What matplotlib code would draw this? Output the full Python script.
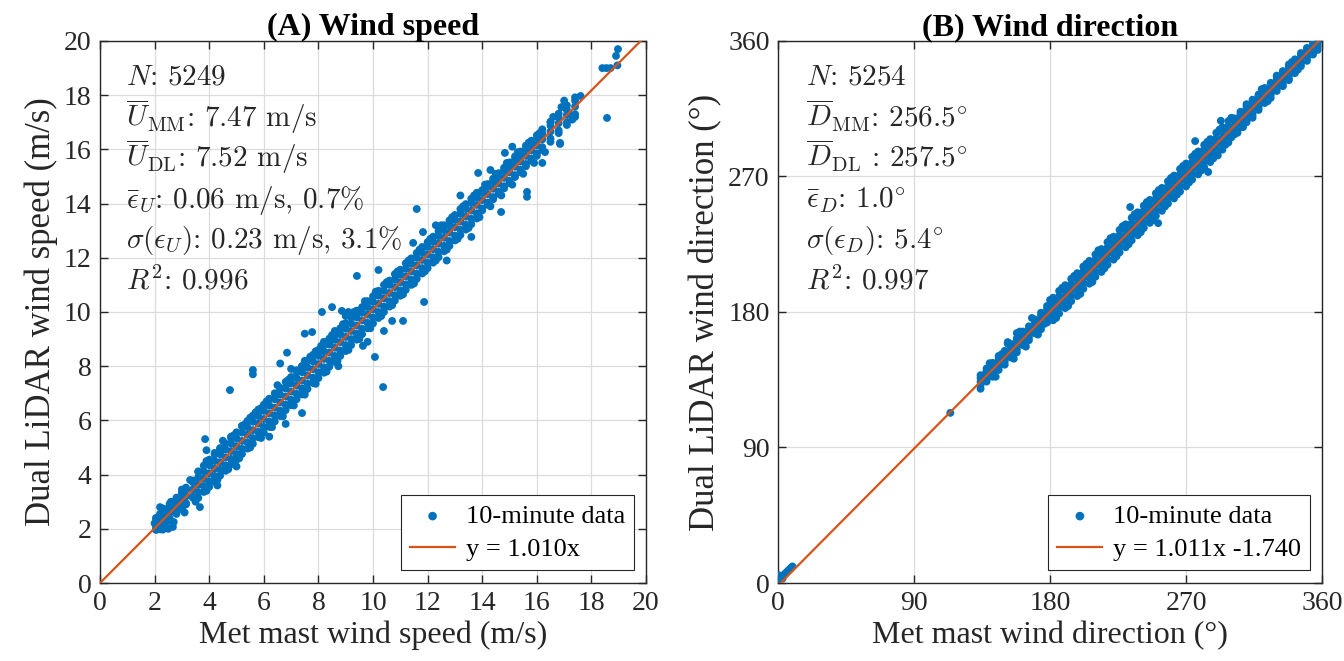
import matplotlib
matplotlib.use("Agg")
import matplotlib.pyplot as plt

plt.rcParams['font.family'] = ['Liberation Serif', 'DejaVu Serif']
plt.rcParams['mathtext.fontset'] = 'cm'

BLUE = '#0072BD'
ORANGE = '#D95319'
DARK = '#262626'

# ---------------- Panel A: wind speed (m/s) ----------------
A_x = [2.05, 2.2, 2.4, 2.55, 2.8, 3.0, 3.15, 3.4, 3.6, 3.8, 4.0, 4.2, 4.4, 4.6, 4.8,
       5.0, 5.2, 5.4, 5.6, 5.8, 6.0, 6.2, 6.4, 6.6, 6.8, 7.0, 7.2, 7.4, 7.6, 7.8,
       8.0, 8.2, 8.4, 8.6, 8.8, 9.0, 9.2, 9.4, 9.6, 9.8, 10.0, 10.2, 10.4, 10.6, 10.8,
       11.0, 11.2, 11.4, 11.6, 11.8, 12.0, 12.2, 12.4, 12.6, 12.8, 13.0, 13.2, 13.4, 13.6, 13.8,
       14.0, 14.2, 14.4, 14.6, 14.8, 15.0, 15.2, 15.4, 15.6, 15.8, 16.0, 16.2, 16.5, 16.8, 17.1, 17.4]
A_mid = [2.10, 2.25, 2.40, 2.60, 2.85, 3.02, 3.20, 3.45, 3.62, 3.85, 4.05, 4.22, 4.46, 4.63, 4.87,
         5.05, 5.24, 5.47, 5.64, 5.88, 6.05, 6.26, 6.47, 6.66, 6.88, 7.06, 7.28, 7.47, 7.66, 7.89,
         8.08, 8.27, 8.50, 8.68, 8.89, 9.08, 9.30, 9.50, 9.69, 9.90, 10.10, 10.30, 10.50, 10.70, 10.92,
         11.10, 11.32, 11.50, 11.72, 11.92, 12.12, 12.32, 12.52, 12.74, 12.93, 13.13, 13.34, 13.52, 13.74, 13.95,
         14.13, 14.35, 14.55, 14.74, 14.95, 15.15, 15.36, 15.55, 15.76, 15.96, 16.15, 16.37, 16.66, 16.97, 17.27, 17.58]
A_up = [2.30, 2.42, 2.58, 2.80, 3.05, 3.28, 3.45, 3.72, 3.90, 4.12, 4.35, 4.50, 4.75, 4.92, 5.15,
        5.34, 5.55, 5.75, 5.95, 6.16, 6.35, 6.55, 6.78, 6.95, 7.18, 7.36, 7.56, 7.78, 7.95, 8.18,
        8.38, 8.55, 8.80, 8.97, 9.18, 9.38, 9.58, 9.80, 9.98, 10.18, 10.38, 10.60, 10.78, 11.00, 11.20,
        11.38, 11.60, 11.78, 12.00, 12.20, 12.40, 12.60, 12.80, 13.02, 13.20, 13.40, 13.62, 13.80, 14.02, 14.22,
        14.40, 14.62, 14.82, 15.00, 15.22, 15.40, 15.62, 15.80, 16.02, 16.20, 16.38, 16.58, 16.88, 17.18, 17.45, 17.80]
A_dn = [1.98, 2.06, 2.20, 2.40, 2.62, 2.76, 2.95, 3.18, 3.35, 3.58, 3.76, 3.95, 4.18, 4.34, 4.58,
        4.76, 4.95, 5.18, 5.35, 5.58, 5.76, 5.96, 6.18, 6.36, 6.58, 6.76, 6.98, 7.18, 7.36, 7.58,
        7.78, 7.96, 8.20, 8.38, 8.58, 8.78, 9.00, 9.20, 9.38, 9.60, 9.80, 10.00, 10.20, 10.40, 10.62,
        10.80, 11.02, 11.20, 11.42, 11.62, 11.82, 12.02, 12.22, 12.44, 12.62, 12.82, 13.04, 13.22, 13.44, 13.64,
        13.82, 14.04, 14.24, 14.44, 14.64, 14.84, 15.05, 15.25, 15.46, 15.66, 15.85, 16.08, 16.40, 16.70, 17.00, 17.30]
A_up2 = [2.40, 2.55, 2.72, 2.92, 3.15, 3.34, 3.52, 3.78, 4.12, 4.33, 4.55, 4.74, 4.98, 5.14, 5.40,
         5.56, 5.78, 5.98, 6.18, 6.40, 6.58, 6.78, 7.00, 7.18, 7.42, 7.58, 7.80, 8.00, 8.18, 8.42,
         8.60, 8.78, 9.02, 9.18, 9.40, 9.58, 9.80, 10.00, 10.18, 10.40, 10.58, 10.78, 11.00, 11.16, 11.40,
         11.56, 11.80, 11.98, 12.18, 12.40, 12.58, 12.78, 12.98, 13.20, 13.38, 13.58, 13.80, 13.98, 14.18, 14.40,
         14.50, 14.72, 14.92, 15.12, 15.32, 15.52, 15.74, 15.92, 16.14, 16.32, 16.52, 16.74, 17.02, 17.32, 17.62, 17.92]
A_dn2 = [1.96, 1.98, 2.10, 2.30, 2.55, 2.72, 2.90, 3.15, 3.14, 3.36, 3.55, 3.74, 3.96, 4.14, 4.38,
         4.55, 4.76, 4.96, 5.14, 5.38, 5.55, 5.76, 5.96, 6.16, 6.38, 6.56, 6.78, 6.96, 7.16, 7.38,
         7.56, 7.76, 7.98, 8.16, 8.38, 8.56, 8.78, 8.98, 9.18, 9.40, 9.58, 9.78, 10.00, 10.20, 10.42,
         10.60, 10.82, 11.00, 11.22, 11.42, 11.62, 11.82, 12.02, 12.24, 12.44, 12.64, 12.84, 13.04, 13.24, 13.45,
         13.75, 13.96, 14.16, 14.36, 14.56, 14.76, 14.98, 15.16, 15.38, 15.58, 15.76, 15.98, 16.28, 16.60, 16.90, 17.20]
A_edge_x = [2.3, 2.6, 3.0, 3.3, 3.6, 3.9, 4.2, 4.5, 4.9, 5.2, 5.5, 5.9, 6.2, 6.5, 6.9, 7.2, 7.5, 7.9, 8.2, 8.6,
            9.0, 9.3, 9.7, 10.1, 10.5, 10.9, 11.3, 11.7, 12.1, 12.5, 12.9, 13.3, 13.7, 14.1, 14.5, 14.9, 15.3, 15.7, 16.1, 16.5,
            2.4, 2.7, 3.1, 3.5, 3.9, 4.3, 4.7, 5.1, 5.5, 5.9, 6.3, 6.7, 7.1, 7.5, 7.9, 8.3, 8.7, 9.1,
            9.5, 9.9, 10.3, 10.7, 11.1, 11.5, 11.9, 12.3, 12.7, 13.1, 13.5, 13.9, 14.3, 14.7, 15.1, 15.5, 15.9, 16.3,
            2.1, 2.3, 2.5, 2.0, 2.15,
            4.4, 4.8, 5.3, 5.7, 6.1, 6.6, 7.0, 7.4, 7.7, 8.1, 8.5, 8.9, 9.4]
A_edge_y = [2.75, 3.0, 3.45, 3.8, 4.1, 4.5, 4.8, 5.25, 5.45, 5.8, 6.1, 6.45, 6.8, 7.3, 7.5, 7.85, 8.2, 8.55, 8.9, 9.3,
            9.85, 10.0, 10.4, 10.75, 11.1, 11.5, 11.9, 12.3, 12.7, 13.2, 13.5, 13.9, 14.3, 14.7, 15.1, 15.5, 15.9, 16.25, 16.6, 17.0,
            2.05, 2.25, 2.6, 3.0, 3.4, 3.8, 4.2, 4.6, 5.0, 5.35, 5.75, 6.15, 6.55, 6.95, 7.35, 7.8, 8.2, 8.6,
            9.0, 9.4, 9.85, 10.25, 10.65, 11.05, 11.5, 11.9, 12.3, 12.7, 13.1, 13.5, 13.9, 14.3, 14.7, 15.1, 15.5, 15.9,
            1.98, 1.97, 2.0, 2.2, 2.45,
            4.95, 5.35, 5.85, 6.3, 6.7, 7.2, 7.6, 8.0, 8.35, 8.75, 9.15, 9.55, 10.05]
A_out_x = [4.76, 3.85, 7.4, 6.8, 3.66, 2.2, 2.67, 10.37, 9.41, 10.2, 11.87, 8.13, 8.5, 11.1, 10.7, 10.4, 10.07,
           9.63, 8.73, 5.6, 5.6, 6.6, 6.85, 7.5, 7.77, 8.86, 9.1, 12.7, 11.6, 14.83, 16.85, 15.64, 15.64, 14.69,
           13.6, 13.1, 11.83, 11.47, 13.85, 14.3, 18.57, 17.6, 18.4, 18.55, 18.7, 18.97, 18.9, 18.95, 16.85, 17.18,
           16.9, 3.9, 4.3, 5.0, 6.2, 7.0, 9.8, 12.3, 13.2, 15.1, 16.2, 17.0, 17.3, 16.6]
A_out_y = [7.12, 5.31, 6.27, 5.87, 2.8, 2.8, 2.07, 7.23, 11.33, 11.55, 10.37, 10.0, 10.18, 9.67, 9.67, 9.3, 8.34,
           8.75, 8.0, 7.86, 7.7, 8.1, 8.5, 9.2, 9.26, 10.04, 10.0, 11.9, 13.8, 15.87, 16.2, 14.43, 14.25, 13.69,
           12.77, 12.77, 12.95, 12.55, 15.13, 15.24, 17.16, 17.97, 19.0, 19.0, 19.0, 19.7, 19.45, 19.1, 16.24, 17.3,
           17.56, 4.9, 3.6, 4.3, 5.4, 7.9, 8.9, 13.2, 14.3, 16.1, 15.5, 17.8, 17.1, 17.2]
A_slope = 1.010
A_ticks = [0, 2, 4, 6, 8, 10, 12, 14, 16, 18, 20]
A_stats = [r"$N$: 5249",
           r"$\overline{U}_{\rm MM}$: 7.47 m/s",
           r"$\overline{U}_{\rm DL}$: 7.52 m/s",
           r"$\bar{\epsilon}_U$: 0.06 m/s, 0.7%",
           r"$\sigma(\epsilon_U)$: 0.23 m/s, 3.1%",
           r"$R^2$: 0.996"]

# ---------------- Panel B: wind direction (deg) ----------------
B_x = [134, 138, 142, 146, 150, 154, 158, 162, 166, 170, 174, 178, 182, 186, 190, 194, 198, 202, 206, 210,
       214, 218, 222, 226, 230, 234, 238, 242, 246, 250, 254, 258, 262, 266, 270, 274, 278, 282, 286, 290,
       294, 298, 302, 306, 310, 314, 318, 322, 326, 330, 334, 338, 342, 346, 350, 354, 357]
B_mid = [133.5, 138.2, 141.5, 146.3, 149.6, 154.4, 157.8, 162.5, 165.8, 170.4, 174.0, 178.6, 182.0, 186.7, 190.1,
         194.8, 198.2, 202.9, 206.3, 210.9, 214.2, 219.0, 222.4, 227.1, 230.5, 235.2, 238.6, 243.3, 246.7, 251.4,
         254.8, 259.5, 262.9, 267.6, 271.0, 275.6, 279.0, 283.7, 287.1, 291.8, 295.2, 299.9, 303.3, 307.9, 311.3,
         316.0, 319.4, 324.0, 327.4, 332.0, 335.4, 340.0, 343.4, 348.0, 351.2, 355.6, 358.6]
B_up = [136.0, 141.0, 144.0, 149.0, 152.3, 157.0, 160.5, 165.0, 168.5, 173.0, 177.5, 182.0, 185.8, 190.3, 194.0,
        198.5, 202.0, 206.8, 210.0, 214.8, 218.0, 222.8, 226.2, 231.0, 234.5, 239.0, 242.5, 247.2, 250.5, 255.3,
        258.6, 263.4, 266.8, 271.5, 274.8, 279.5, 282.8, 287.6, 291.0, 295.5, 299.0, 303.5, 307.0, 311.5, 314.8,
        319.2, 322.4, 326.8, 330.0, 334.6, 338.0, 342.6, 346.0, 350.4, 353.6, 357.6, 359.5]
B_dn = [131.2, 135.6, 139.0, 143.8, 147.0, 151.8, 155.0, 159.6, 163.0, 167.6, 170.5, 175.0, 178.2, 183.0, 186.3,
        191.0, 194.5, 199.0, 202.5, 207.0, 210.5, 215.2, 218.6, 223.3, 226.8, 231.5, 234.8, 239.5, 243.0, 247.6,
        251.0, 255.8, 259.0, 263.8, 267.2, 271.8, 275.2, 280.0, 283.2, 288.0, 291.5, 296.0, 299.5, 304.2, 307.8,
        312.5, 316.0, 320.8, 324.2, 329.0, 332.4, 337.2, 340.6, 345.3, 348.8, 353.2, 356.5]
B_up2 = [138.0, 142.5, 146.2, 150.8, 154.2, 158.8, 162.5, 167.0, 170.5, 175.0, 179.5, 184.0, 189.5, 194.0, 197.8,
         202.0, 205.8, 210.2, 214.0, 218.2, 221.8, 226.4, 230.0, 234.5, 238.2, 242.6, 246.2, 250.6, 254.4, 258.8,
         262.4, 266.8, 270.6, 275.0, 278.6, 283.0, 286.6, 291.0, 294.8, 299.0, 302.6, 306.8, 308.6, 313.0, 316.4,
         321.0, 324.4, 328.8, 332.2, 336.6, 340.0, 344.4, 347.8, 352.0, 355.4, 359.0, 359.8]
B_dn2 = [129.0, 133.8, 137.0, 141.5, 145.0, 149.8, 153.2, 158.0, 161.2, 165.8, 168.5, 173.0, 174.5, 179.0, 182.6,
         187.2, 190.6, 195.4, 198.8, 203.4, 206.6, 211.4, 214.8, 219.6, 223.0, 227.6, 231.0, 235.8, 239.2, 243.8,
         247.2, 252.0, 255.4, 260.0, 263.4, 268.0, 271.4, 276.2, 279.6, 284.4, 287.8, 292.6, 298.0, 302.6, 306.0,
         310.8, 314.2, 318.8, 322.2, 326.8, 330.4, 335.0, 338.6, 343.2, 346.8, 351.0, 354.0]
B_edge_x = [140, 152, 160, 168, 180, 188, 196, 204, 212, 220, 228, 236, 244, 252, 260, 268, 276, 284, 292, 300,
            310, 320, 330, 340, 350,
            144, 156, 164, 172, 184, 192, 200, 208, 216, 224, 232, 240, 248, 256, 264, 272, 280, 288, 296, 304,
            314, 324, 334, 344,
            136, 148, 176, 200, 224, 240, 262, 282, 300, 318, 338]
B_edge_y = [146, 159, 167, 176, 188, 196, 204, 212, 221, 229, 237, 245, 253, 261, 269, 277, 285, 293, 301, 309,
            318, 328, 337, 346, 355,
            137, 149, 157, 165, 176, 184, 192, 200, 209, 217, 225, 233, 241, 250, 258, 266, 274, 282, 291, 299,
            309, 320, 330, 341,
            138, 152, 172, 205, 220, 245, 258, 288, 296, 324, 334]
B_out_x = [233, 251.5, 276, 293, 284.6, 291, 307.7, 114, 152, 158,
           0.5, 1.5, 2.5, 3.5, 4.5, 5.5, 6.5, 7.5, 8.5, 9.5, 1.0, 3.0, 0.3]
B_out_y = [249.7, 239, 293.5, 307, 273, 284, 302.8, 113, 160, 166,
           2, 3.5, 4.5, 5, 6, 7, 8, 9, 10, 11, 5, 3, 4]
B_slope = 1.011
B_offset = -1.740
B_ticks = [0, 90, 180, 270, 360]
B_stats = [r"$N$: 5254",
           r"$\overline{D}_{\rm MM}$: 256.5$^{\circ}$",
           r"$\overline{D}_{\rm DL}$ : 257.5$^{\circ}$",
           r"$\bar{\epsilon}_D$: 1.0$^{\circ}$",
           r"$\sigma(\epsilon_D)$: 5.4$^{\circ}$",
           r"$R^2$: 0.997"]

fig = plt.figure(figsize=(13.44, 6.61), dpi=100)
axA = fig.add_axes([0.0744, 0.118, 0.4063, 0.820])
axB = fig.add_axes([0.5789, 0.118, 0.4048, 0.820])

MS = 32
stat_y = [0.919, 0.841, 0.767, 0.692, 0.618, 0.542]
TICK_FS = 20
XLABEL_FS = 23
YLABEL_FS = 25
TITLE_FS = 23
STAT_FS = 21
LEG_FS = 19


def style(ax, ticks, lim):
    ax.set_xlim(0, lim)
    ax.set_ylim(0, lim)
    ax.set_xticks(ticks)
    ax.set_yticks(ticks)
    ax.grid(True, color='#dcdcdc', linewidth=0.9)
    ax.set_axisbelow(True)
    for s in ax.spines.values():
        s.set_color(DARK)
        s.set_linewidth(1.0)
    ax.tick_params(direction='in', top=True, right=True, length=6, width=1.0,
                   color=DARK, labelcolor=DARK, labelsize=TICK_FS, pad=6)


def scatter_all(ax, groups):
    first = True
    for gx, gy in groups:
        ax.scatter(gx, gy, s=MS, color=BLUE, edgecolors='none', zorder=3,
                   label='10-minute data' if first else None)
        first = False


def add_legend(ax):
    leg = ax.legend(loc='lower right', bbox_to_anchor=(0.978, 0.024), borderaxespad=0, fontsize=LEG_FS,
                    frameon=True, fancybox=False, edgecolor=DARK, framealpha=1, handlelength=1.7,
                    handletextpad=0.4, borderpad=0.35, labelspacing=0.35, scatterpoints=1, markerscale=1.1)
    leg.get_frame().set_linewidth(0.8)


# Panel A
scatter_all(axA, [(A_x, A_mid), (A_x, A_up), (A_x, A_dn), (A_x, A_up2), (A_x, A_dn2),
                  (A_edge_x, A_edge_y), (A_out_x, A_out_y)])
axA.plot([0, 20], [0, A_slope * 20], color=ORANGE, linewidth=1.6, zorder=4, label='y = 1.010x')
style(axA, A_ticks, 20)
axA.set_title('(A) Wind speed', fontsize=TITLE_FS, fontweight='bold', color='black', pad=4)
axA.set_xlabel('Met mast wind speed (m/s)', fontsize=XLABEL_FS, color=DARK, labelpad=3)
axA.set_ylabel('Dual LiDAR wind speed (m/s)', fontsize=YLABEL_FS, color=DARK, labelpad=4)
for t, yy in zip(A_stats, stat_y):
    axA.text(0.048, yy, t, transform=axA.transAxes, fontsize=STAT_FS, family='cmr10', color=DARK,
             va='baseline', ha='left', zorder=5)
add_legend(axA)

# Panel B
scatter_all(axB, [(B_x, B_mid), (B_x, B_up), (B_x, B_dn), (B_x, B_up2), (B_x, B_dn2),
                  (B_edge_x, B_edge_y), (B_out_x, B_out_y)])
axB.plot([0, 360], [B_offset, B_slope * 360 + B_offset], color=ORANGE, linewidth=1.6, zorder=4,
         label='y = 1.011x -1.740')
style(axB, B_ticks, 360)
axB.set_title('(B) Wind direction', fontsize=TITLE_FS, fontweight='bold', color='black', pad=4)
axB.set_xlabel('Met mast wind direction (°)', fontsize=XLABEL_FS, color=DARK, labelpad=3)
axB.set_ylabel('Dual LiDAR wind direction (°)', fontsize=YLABEL_FS, color=DARK, labelpad=4)
for t, yy in zip(B_stats, stat_y):
    axB.text(0.051, yy, t, transform=axB.transAxes, fontsize=STAT_FS, family='cmr10', color=DARK,
             va='baseline', ha='left', zorder=5)
add_legend(axB)

fig.savefig('out.png', dpi=100)
